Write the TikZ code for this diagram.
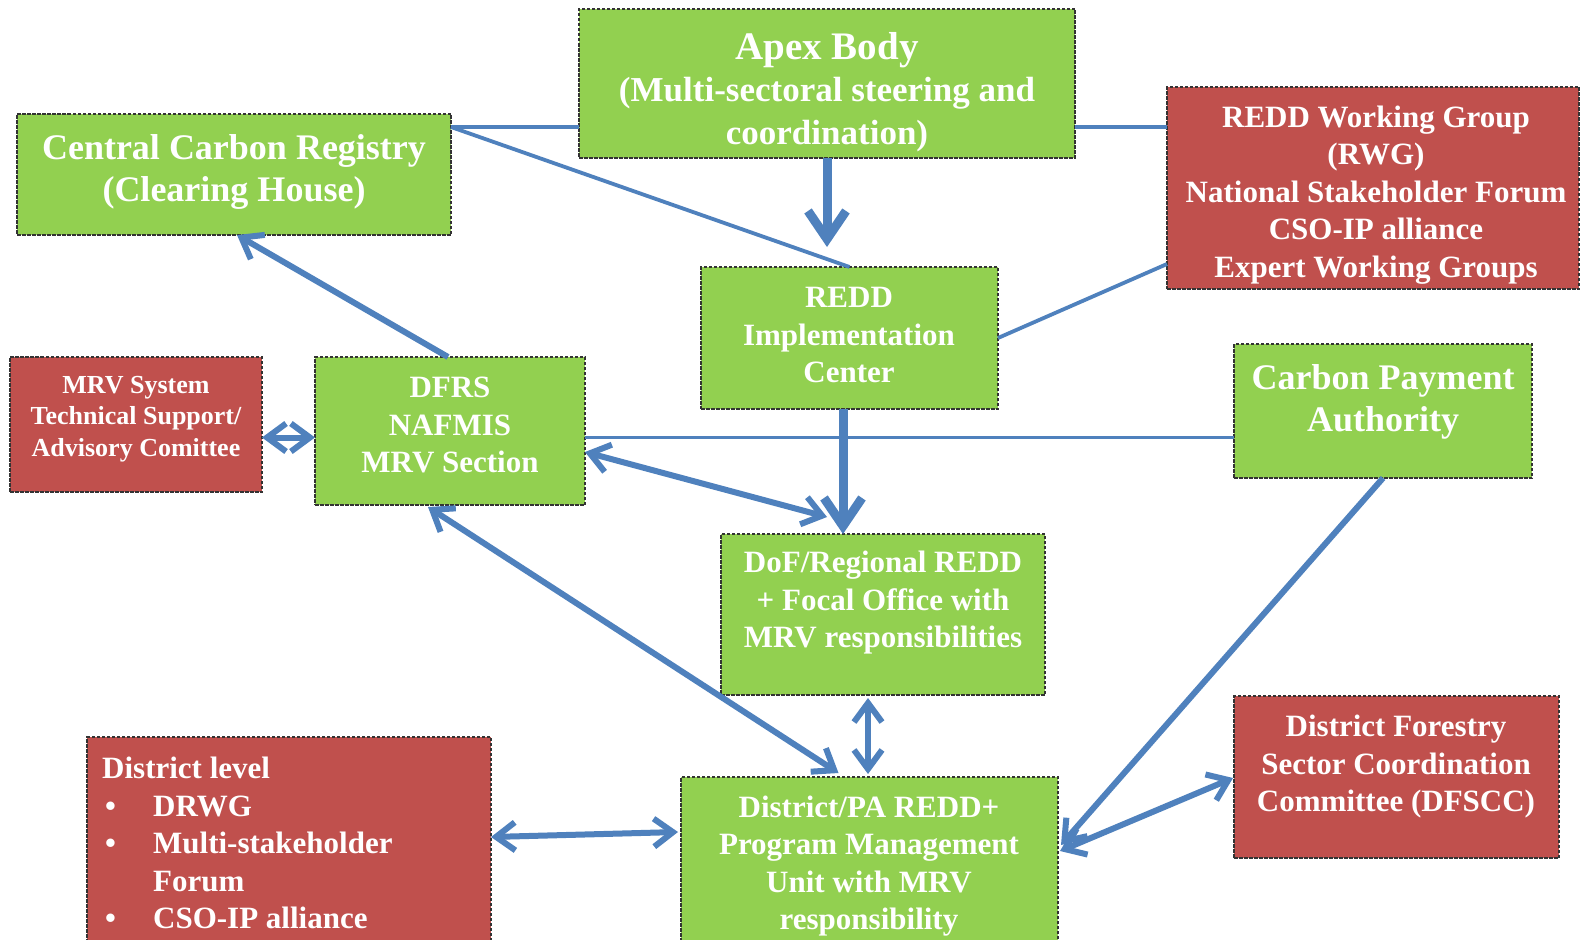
\documentclass[tikz,border=0pt]{standalone}
\usepackage{fontspec}
\setmainfont{Liberation Serif}
\usetikzlibrary{arrows.meta,calc}
\definecolor{boxgreen}{HTML}{92D050}
\definecolor{boxred}{HTML}{C0504D}
\definecolor{linkblue}{HTML}{4F81BD}
\definecolor{edgegray}{HTML}{333333}
\newcommand{\dlbullet}{\makebox[51pt][l]{\hspace{3pt}\textbullet}}
\tikzset{
  box/.style={draw=edgegray, line width=2.6pt, dash pattern=on 3.5pt off 1.5pt,
    rectangle, anchor=north west, inner sep=0pt, outer sep=0pt},
  gbox/.style={box, fill=boxgreen},
  rbox/.style={box, fill=boxred},
  txt/.style={text=white, font=\bfseries\fontsize{31}{37.5}\selectfont,
    align=center, inner sep=0pt},
  bigtxt/.style={txt, font=\bfseries\fontsize{36}{42}\selectfont},
  apextxt/.style={txt, font=\bfseries\fontsize{35}{42.5}\selectfont},
  smalltxt/.style={txt, font=\bfseries\fontsize{26}{31.5}\selectfont},
  thinlink/.style={draw=linkblue, line width=3.8pt},
  link/.style={draw=linkblue, line width=6pt},
  bigarrow/.style={draw=linkblue, line width=9pt,
    -{Straight Barb[length=28pt,width=38pt]}},
}
\begin{document}
\begin{tikzpicture}[x=1pt,y=-1pt,>={Straight Barb[length=19pt,width=28pt]}]
\useasboundingbox (0,0) rectangle (1581,939);
\clip (0,0) rectangle (1581,939);
\fill[white] (0,0) rectangle (1581,939);

% boxes
\node[gbox, minimum width=496pt, minimum height=149pt] (apex) at (579,9) {};
\node[gbox, minimum width=434pt, minimum height=121pt] (ccr) at (17,114) {};
\node[rbox, minimum width=412pt, minimum height=202pt] (rwg) at (1167,87) {};
\node[gbox, minimum width=297pt, minimum height=142pt] (impl) at (701,267) {};
\node[rbox, minimum width=252pt, minimum height=135pt] (mrvs) at (10,357) {};
\node[gbox, minimum width=270pt, minimum height=148pt] (dfrs) at (315,357) {};
\node[gbox, minimum width=298pt, minimum height=134pt] (cpa) at (1234,344) {};
\node[gbox, minimum width=324pt, minimum height=161pt] (dof) at (721,534) {};
\node[rbox, minimum width=404pt, minimum height=230pt] (dl) at (87,737) {};
\node[gbox, minimum width=377pt, minimum height=190pt] (pmu) at (681,777) {};
\node[rbox, minimum width=325pt, minimum height=162pt] (dfscc) at (1234,696) {};

% texts
\node[apextxt] (tapex) at (827,92) {{\fontsize{39}{42.5}\selectfont Apex Body}\\
  (Multi-sectoral steering and\\coordination)};
\node[bigtxt] (tccr) at (234,172) {Central Carbon Registry\\(Clearing House)};
\node[txt] (trwg) at (1376,195) {REDD Working Group\\(RWG)\\National Stakeholder Forum\\CSO-IP alliance\\Expert Working Groups};
\node[txt] (timpl) at (849,335) {REDD\\Implementation\\Center};
\node[smalltxt] (tmrvs) at (136,419) {MRV System\\Technical Support/\\Advisory Comittee};
\node[txt] (tdfrs) at (450,425) {DFRS\\NAFMIS\\MRV Section};
\node[bigtxt] (tcpa) at (1383,402) {Carbon Payment\\Authority};
\node[txt] (tdof) at (883,603) {DoF/Regional REDD\\+ Focal Office with\\MRV responsibilities};
\node[txt] (tpmu) at (869,866) {District/PA REDD+\\Program Management\\Unit with MRV\\responsibility};
\node[txt] (tdfscc) at (1396,767) {District Forestry\\Sector Coordination\\Committee (DFSCC)};
\node[txt, align=left, anchor=west] (tdl) at (102,843) {District level\\
  \dlbullet DRWG\\ \dlbullet Multi-stakeholder\\ \hspace*{51pt}Forum\\ \dlbullet CSO-IP alliance};

% connectors
\coordinate (c1) at ($(ccr.north east)+(0,13)$);
\draw[thinlink] (c1) -- (c1 -| apex.west);
\draw[thinlink] (c1 -| apex.east) -- (c1 -| rwg.west);
\draw[thinlink] (c1) -- (impl.north);
\draw[bigarrow] (apex.south) -- ($(apex.south |- impl.north)+(0,-20)$);
\draw[thinlink] (impl.east) -- ($(rwg.south west)+(0,-25)$);
\draw[link, ->] ($(dfrs.north)+(-2,0)$) -- ($(ccr.south)+(3,0)$);
\coordinate (c7) at ($(mrvs.east)+(0,13)$);
\draw[link, <->] (c7) -- (c7 -| dfrs.west);
\draw[thinlink] (c7 -| dfrs.east) -- (c7 -| cpa.west);
\coordinate (c9) at ($(impl.south)+(-6.5,0)$);
\draw[bigarrow] (c9) -- (c9 |- dof.north);
\draw[link, <->] ($(dfrs.east)+(0,21)$) -- ($(dof.north west)+(106,-17)$);
\draw[link, <->] ($(dfrs.south)+(-22,2)$) -- ($(pmu.north)+(-31,-4)$);
\coordinate (c12) at ($(pmu.north)+(-1.5,0)$);
\draw[link, <->] ($(c12 |- dof.south)+(0,3)$) -- ($(c12)+(0,-3)$);
\draw[link, ->] (cpa.south) -- ($(pmu.north east)+(3,68)$);
\draw[link, <->] ($(dl.north east)+(0,100)$) -- ($(pmu.north west)+(-3,55)$);
\draw[link, <->] ($(pmu.north east)+(2,74)$) -- ($(dfscc.north west)+(-1,82)$);
\end{tikzpicture}
\end{document}
